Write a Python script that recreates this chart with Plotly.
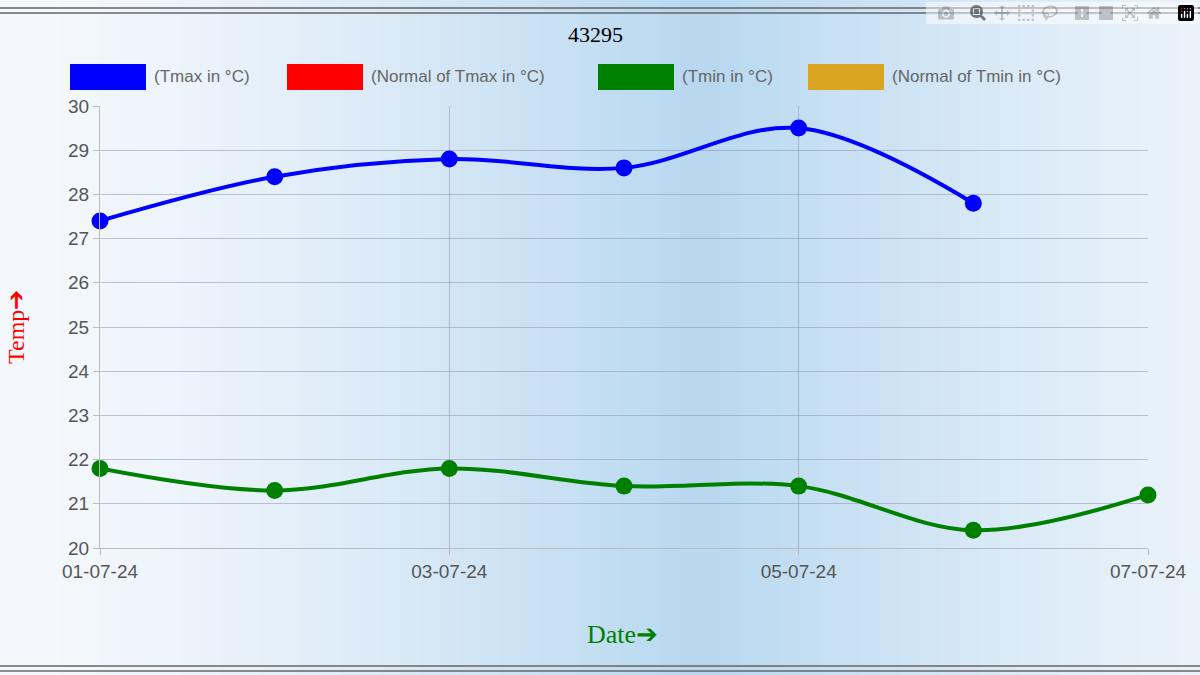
import plotly.graph_objects as go

dates_max = ["2024-07-01","2024-07-02","2024-07-03","2024-07-04","2024-07-05","2024-07-06"]
tmax = [27.4, 28.4, 28.8, 28.6, 29.5, 27.8]
dates_min = ["2024-07-01","2024-07-02","2024-07-03","2024-07-04","2024-07-05","2024-07-06","2024-07-07"]
tmin = [21.8, 21.3, 21.8, 21.4, 21.4, 20.4, 21.2]
tick_vals = ["2024-07-01","2024-07-03","2024-07-05","2024-07-07"]
tick_text = ["01-07-24","03-07-24","05-07-24","07-07-24"]
legend_items = [("(Tmax in °C)","#0000ff"),("(Normal of Tmax in °C)","#ff0000"),
                ("(Tmin in °C)","#008000"),("(Normal of Tmin in °C)","#daa520")]

W, H = 1200, 675
L, R, T, B = 100, 52, 106, 127
pw = W - L - R
ph = H - T - B

def px(x): return (x - L) / pw
def py(y): return (H - B - y) / ph

fig = go.Figure()
fig.add_trace(go.Scatter(x=dates_max, y=tmax, mode="lines+markers", line=dict(color="#0000ff", width=4, shape="spline"),
                         marker=dict(size=17, color="#0000ff"), showlegend=False, cliponaxis=False))
fig.add_trace(go.Scatter(x=dates_min, y=tmin, mode="lines+markers", line=dict(color="#008000", width=4, shape="spline"),
                         marker=dict(size=17, color="#008000"), showlegend=False, cliponaxis=False))

shapes = []
n = 60
for i in range(n):
    x0 = W * i / n; x1 = W * (i + 1) / n
    xc = (x0 + x1) / 2
    t = max(0.0, 1 - abs(xc - 700) / 650)
    t = t ** 1.3
    c0 = (244, 248, 253); c1 = (184, 216, 240)
    col = tuple(int(c0[k] + (c1[k] - c0[k]) * t) for k in range(3))
    shapes.append(dict(type="rect", xref="paper", yref="paper", x0=px(x0), x1=px(x1), y0=py(H), y1=py(0),
                       fillcolor="rgb(%d,%d,%d)" % col, line=dict(width=0), layer="below"))
for y in (8, 13, 666, 671):
    shapes.append(dict(type="line", xref="paper", yref="paper", x0=px(0), x1=px(W), y0=py(y), y1=py(y),
                       line=dict(color="#666", width=1.5)))

annotations = [dict(text="43295", x=px(595), y=py(35), xref="paper", yref="paper", showarrow=False,
                    xanchor="center", yanchor="middle",
                    font=dict(family="Liberation Serif", size=22, color="#000")),
               dict(text="Temp➔", x=px(16), y=py(327), xref="paper", yref="paper", showarrow=False, textangle=-90,
                    xanchor="center", yanchor="middle",
                    font=dict(family="Liberation Serif", size=24, color="#ff0000")),
               dict(text="Date➔", x=px(622), y=py(634), xref="paper", yref="paper", showarrow=False,
                    xanchor="center", yanchor="middle",
                    font=dict(family="Liberation Serif", size=26, color="#008000"))]
lx = [70, 287, 598, 808]
for (label, col), x0 in zip(legend_items, lx):
    shapes.append(dict(type="rect", xref="paper", yref="paper", x0=px(x0), x1=px(x0 + 76), y0=py(90), y1=py(64),
                       fillcolor=col, line=dict(width=0)))
    annotations.append(dict(text=label, x=px(x0 + 82), y=py(76), xref="paper", yref="paper", showarrow=False,
                            xanchor="left", yanchor="middle",
                            font=dict(family="Liberation Sans", size=17, color="#666")))

fig.update_layout(
    width=W, height=H, margin=dict(l=L, r=R, t=T, b=B),
    paper_bgcolor="white", plot_bgcolor="rgba(0,0,0,0)",
    shapes=shapes, annotations=annotations,
    xaxis=dict(range=["2024-07-01","2024-07-07"], tickvals=tick_vals, ticktext=tick_text, showgrid=True,
               gridcolor="rgba(140,140,170,0.5)", zeroline=False, showline=True, linecolor="#bbb",
               ticks="outside", ticklen=6, tickcolor="#bbb",
               tickfont=dict(family="Liberation Sans", size=19, color="#555")),
    yaxis=dict(range=[20, 30], dtick=1, showgrid=True, gridcolor="rgba(140,140,170,0.5)", zeroline=False,
               showline=True, linecolor="#bbb", tickfont=dict(family="Liberation Sans", size=19, color="#555"),
               ticks="outside", ticklen=6, tickcolor="#bbb"),
)
fig.write_html("out.html")
with open("out.html", encoding="utf-8") as f:
    html = f.read()
html = html.replace("<head>", "<head><style>html,body{margin:0;padding:0;overflow:hidden}</style>", 1)
with open("out.html", "w", encoding="utf-8") as f:
    f.write(html)
